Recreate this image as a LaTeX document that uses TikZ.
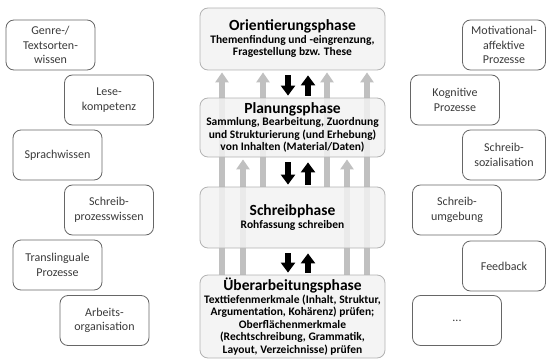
\documentclass[tikz,border=0pt]{standalone}
\usepackage{fontspec}
\setmainfont{Carlito}
\usetikzlibrary{arrows.meta,backgrounds}

\definecolor{boxline}{HTML}{666666}
\definecolor{boxtext}{HTML}{3A3A3A}
\definecolor{phasefill}{HTML}{F2F2F2}
\definecolor{phaseline}{HTML}{B2B2B2}
\definecolor{backgray}{HTML}{C0C0C0}

\newcommand{\phasetitle}[1]{{\fontsize{15.5}{17}\selectfont #1}}

\begin{document}
\begin{tikzpicture}[
    x=1pt, y=-1pt,
    factor/.style={draw=boxline, line width=0.8pt, rounded corners=8pt,
                   text=boxtext, align=center, inner sep=2pt,
                   minimum width=89pt, minimum height=50pt,
                   font=\fontsize{12}{14.5}\selectfont},
    edgefactor/.style={factor, minimum width=83pt},
    phase/.style={draw=phaseline, fill=phasefill, fill opacity=0.85,
                  text opacity=1, line width=0.8pt, rounded corners=8pt,
                  align=center, inner sep=1pt, minimum width=185pt,
                  font=\fontsize{11.5}{12.5}\selectfont\bfseries},
    backarrow/.style={backgray, line width=6pt,
                      -{Triangle[width=13pt,length=10pt]}},
    phasearrow/.style={black, line width=6pt,
                       -{Triangle[width=14pt,length=10pt]}}
]
\useasboundingbox (0,0) rectangle (546,361);

% ---------- factors, left ----------
\node[factor] (genre)  at (50.5,45)  {Genre-/\\Textsorten-\\wissen};
\node[factor] (lese)   at (109,100)  {Lese-\\kompetenz};
\node[factor] (sprach) at (57.5,155) {Sprachwissen};
\node[factor] (proz)   at (109,210)  {Schreib-\\prozesswissen};
\node[factor] (transl) at (57.5,265) {Translinguale\\Prozesse};
\node[factor] (arbeit) at (104.5,320.5) {Arbeits-\\organisation};

% ---------- factors, right ----------
\node[edgefactor] (motiv)  at (504,45)  {Motivational-\\affektive\\Prozesse};
\node[factor]     (kogn)   at (455,100) {Kognitive\\Prozesse};
\node[edgefactor] (sozial) at (504,155) {Schreib-\\sozialisation};
\node[factor]     (umgeb)  at (457,210) {Schreib-\\umgebung};
\node[edgefactor] (feedb)  at (504,266) {Feedback};
\node[factor]     (etc)    at (457,320.5) {...};

% ---------- phases ----------
\node[phase, minimum height=62pt] (orient) at (292.5,39)
  {\phasetitle{Orientierungsphase}\\
   Themenfindung und -eingrenzung,\\
   Fragestellung bzw. These};
\node[phase, minimum height=59pt] (plan) at (292.5,127.5)
  {\phasetitle{Planungsphase}\\
   Sammlung, Bearbeitung, Zuordnung\\
   und Strukturierung (und Erhebung)\\
   von Inhalten (Material/Daten)};
\node[phase, minimum height=61pt] (schreib) at (292.5,217.5)
  {\phasetitle{Schreibphase}\\
   Rohfassung schreiben};
\node[phase, minimum height=83pt] (ueber) at (292.5,316.5)
  {\phasetitle{Überarbeitungsphase}\\
   Texttiefenmerkmale (Inhalt, Struktur,\\
   Argumentation, Kohärenz) prüfen;\\
   Oberflächenmerkmale\\
   (Rechtschreibung, Grammatik,\\
   Layout, Verzeichnisse) prüfen};

% ---------- recursive steps back, behind the phases ----------
\begin{scope}[on background layer]
\foreach \dx/\from/\to in {-70.5/ueber/orient, -49.5/ueber/plan,
                           -29.5/schreib/orient, 34.5/schreib/orient,
                           54.5/ueber/plan, 74.5/ueber/orient}
  \draw[backarrow, shorten >=2pt]
    ([xshift=\dx pt]\from.north) -- ([xshift=\dx pt]\to.south);
\end{scope}

% ---------- between neighbouring phases ----------
\foreach \up/\low in {orient/plan, plan/schreib, schreib/ueber} {
  \draw[phasearrow, shorten <=5pt, shorten >=2pt]
    ([xshift=-4.5pt]\up.south) -- ([xshift=-4.5pt]\low.north);
  \draw[phasearrow, shorten <=2pt, shorten >=5pt]
    ([xshift=15.5pt]\low.north) -- ([xshift=15.5pt]\up.south);
}

\end{tikzpicture}
\end{document}
